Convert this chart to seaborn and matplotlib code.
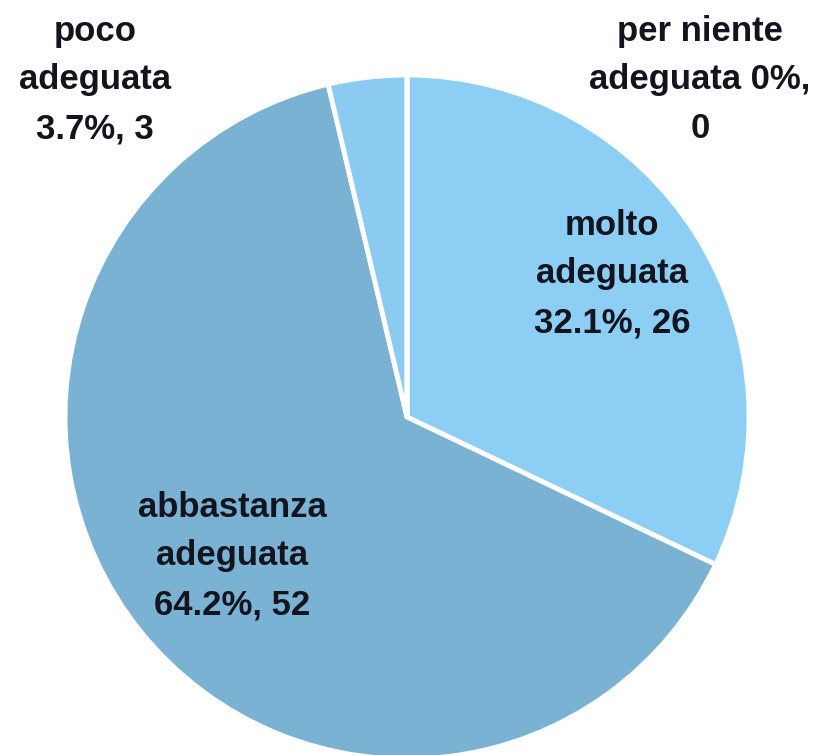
import matplotlib
matplotlib.use('Agg')
import matplotlib.pyplot as plt
import seaborn as sns

sns.set_theme(style='white')
plt.rcParams['font.family'] = ['Liberation Sans', 'DejaVu Sans']

# dati
categorie = ['molto\nadeguata', 'abbastanza\nadeguata', 'poco\nadeguata', 'per niente\nadeguata']
valori = [26, 52, 3, 0]
percentuali = ['32.1%', '64.2%', '3.7%', '0%']
colori = ['#8DCFF4', '#7AB2D4', '#8CCBF1', '#8CCBF1']

fig = plt.figure(figsize=(8.17, 7.55), dpi=100)
ax = fig.add_axes([0, 0, 1, 1])

R = 342.0
cx, cy = 407.0, 417.0

ax.pie(valori, colors=colori, startangle=90, counterclock=False,
       radius=1, wedgeprops=dict(edgecolor='white', linewidth=3.5))

ax.set_xlim(-cx / R, (817 - cx) / R)
ax.set_ylim(-(755 - cy) / R, cy / R)
ax.set_aspect('auto')
ax.axis('off')

def px(x, y):
    return (x - cx) / R, (cy - y) / R

# posizioni delle etichette (pixel)
pos = [(612, 274), (232, 556), (95, 80), (700, 80)]
testi = [
    'molto\nadeguata\n32.1%, 26',
    'abbastanza\nadeguata\n64.2%, 52',
    'poco\nadeguata\n3.7%, 3',
    'per niente\nadeguata 0%,\n0',
]
for (x, y), t in zip(pos, testi):
    ax.text(*px(x, y), t, ha='center', va='center', fontsize=25,
            fontweight='bold', color='#14141f', linespacing=1.6)

fig.savefig('out.png', dpi=100)
